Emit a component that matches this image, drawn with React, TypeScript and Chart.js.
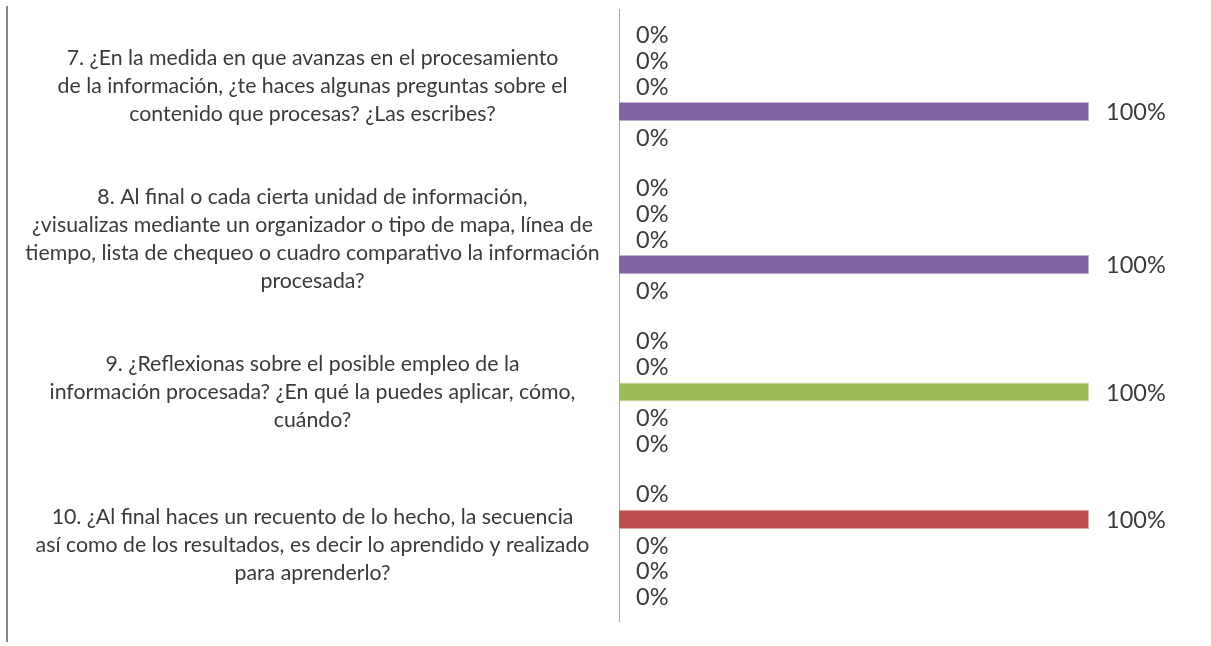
import React, { useEffect, useRef } from "react";
import { Chart, registerables } from "chart.js";

Chart.register(...registerables);

const categories: string[][] = [
  [
    "7. ¿En la medida en que avanzas en el procesamiento",
    "de la información, ¿te haces algunas preguntas sobre el",
    "contenido que procesas? ¿Las escribes?",
  ],
  [
    "8. Al final o cada cierta unidad de información,",
    "¿visualizas mediante un organizador o tipo de mapa, línea de",
    "tiempo, lista de chequeo o cuadro comparativo la información",
    "procesada?",
  ],
  [
    "9. ¿Reflexionas sobre el posible empleo de la",
    "información procesada? ¿En qué la puedes aplicar, cómo,",
    "cuándo?",
  ],
  [
    "10. ¿Al final haces un recuento de lo hecho, la secuencia",
    "así como de los resultados, es decir lo aprendido y realizado",
    "para aprenderlo?",
  ],
];

const seriesNames = ["Serie 1", "Serie 2", "Serie 3", "Serie 4", "Serie 5"];
const series1 = [0, 0, 0, 0];
const series2 = [0, 0, 0, 1];
const series3 = [0, 0, 1, 0];
const series4 = [1, 1, 0, 0];
const series5 = [0, 0, 0, 0];

const seriesColors = ["#4F81BD", "#C0504D", "#9BBB59", "#8064A2", "#4BACC6"];
const seriesBorders = ["#A7C0DE", "#DFA8A6", "#CDDDAC", "#BFB1D0", "#A5D5E2"];

const TEXT = "#3a3a3a";
const FONT = "Lato, 'Open Sans', sans-serif";

const decorPlugin = {
  id: "decor",
  beforeDraw(chart: any) {
    const ctx = chart.ctx;
    ctx.save();
    ctx.fillStyle = "#868686";
    ctx.fillRect(6, 6, 2, 636);
    ctx.restore();
  },
  afterDatasetsDraw(chart: any) {
    const ctx = chart.ctx;
    const yScale = chart.scales.y;
    ctx.save();
    // category labels
    ctx.fillStyle = TEXT;
    ctx.font = `21.3px ${FONT}`;
    ctx.textAlign = "center";
    ctx.textBaseline = "middle";
    const lh = 28;
    categories.forEach((lines, i) => {
      const cy = yScale.getPixelForValue(i);
      const start = cy - ((lines.length - 1) * lh) / 2;
      lines.forEach((line, j) => {
        ctx.fillText(line, 312.5, start + j * lh);
      });
    });
    // value labels
    ctx.font = `23.5px ${FONT}`;
    ctx.textAlign = "left";
    chart.data.datasets.forEach((ds: any, di: number) => {
      const meta = chart.getDatasetMeta(di);
      meta.data.forEach((el: any, idx: number) => {
        const v = ds.data[idx];
        ctx.fillText(`${Math.round(v * 100)}%`, el.x + 17, el.y + 1);
      });
    });
    ctx.restore();
  },
};

export default function App() {
  const ref = useRef<HTMLCanvasElement | null>(null);
  useEffect(() => {
    if (!ref.current) return;
    const data = [series1, series2, series3, series4, series5];
    const chart = new Chart(ref.current, {
      type: "bar",
      data: {
        labels: categories.map((c) => c.join(" ")),
        datasets: data.map((d, i) => ({
          label: seriesNames[i],
          data: d,
          backgroundColor: seriesColors[i],
          borderColor: seriesBorders[i],
          borderWidth: 1,
          categoryPercentage: 0.836,
          barPercentage: 0.75,
        })),
      },
      options: {
        indexAxis: "y",
        animation: false,
        responsive: true,
        maintainAspectRatio: false,
        layout: { padding: { top: 9.5, bottom: 24.5, right: 28, left: 0 } },
        plugins: {
          legend: { display: false },
          tooltip: { enabled: false },
        },
        scales: {
          x: {
            display: false,
            min: 0,
            max: 1.2,
          },
          y: {
            grid: { display: false },
            ticks: { display: false },
            border: { display: true, color: "#A6A6A6", width: 1 },
            afterFit(scale: any) {
              scale.width = 619;
            },
          },
        },
      },
      plugins: [decorPlugin],
    });
    return () => chart.destroy();
  }, []);
  return (
    <div style={{ position: "fixed", left: 0, top: 0, width: 1211, height: 646, background: "#fff" }}>
      <canvas ref={ref} />
    </div>
  );
}
